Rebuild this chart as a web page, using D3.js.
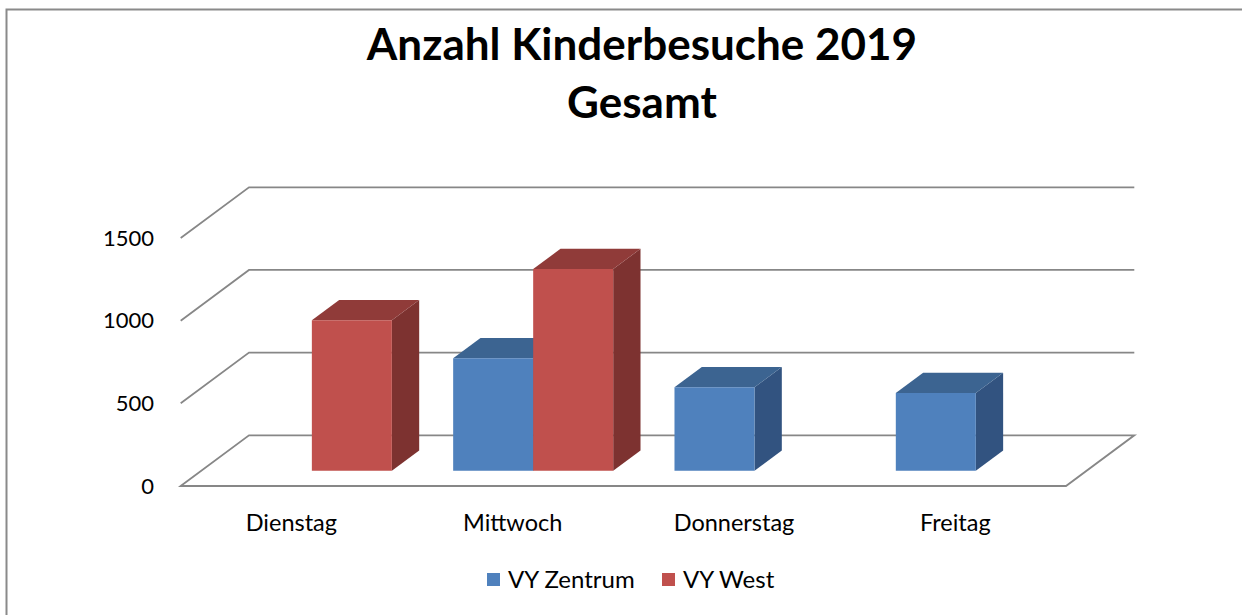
<!DOCTYPE html>
<html>
<head>
<meta charset="utf-8">
<script src="https://cdn.jsdelivr.net/npm/d3@7"></script>
<style>
  body { margin: 0; background: #fff; }
  svg text { font-family: Lato, "Open Sans", sans-serif; fill: #000; }
</style>
</head>
<body>
<svg id="chart" width="1242" height="615"></svg>
<script>
// chart data
var categories = ["Dienstag", "Mittwoch", "Donnerstag", "Freitag"];
var seriesNames = ["VY Zentrum", "VY West"];
var zentrum = [null, 680, 505, 470];
var west = [910, 1220, null, null];
var yTicks = [0, 500, 1000, 1500];
var seriesColors = {
  "VY Zentrum": { front: "#4f81bd", top: "#3c6491", side: "#325380" },
  "VY West": { front: "#c0504d", top: "#903b39", side: "#7d3230" }
};

var svg = d3.select("#chart");

// floor geometry (front-left corner, depth offset)
var floorX0 = 180.7, floorX1 = 1066, baseY = 486;
var DX = 68.3, DY = 50.7;   // depth vector of the floor
var zFront = 0.3, zBack = 0.7; // depth of bars inside the floor

var x = d3.scaleBand().domain(categories).range([floorX0, floorX1]).padding(0);
var xs = d3.scaleBand().domain(seriesNames).range([0, x.bandwidth()]).paddingOuter(0.383).paddingInner(0);
var y = d3.scaleLinear().domain([0, 1500]).range([0, 248]);

// project (floor x, value, depth) -> screen
function proj(px, v, z) {
  return [px + z * DX, baseY - y(v) - z * DY];
}
function poly(pts) {
  return pts.map(function(p) { return p.join(","); }).join(" ");
}

// outer frame
svg.append("path")
  .attr("d", "M6.5,615 L6.5,9.5 L1242,9.5")
  .attr("fill", "none")
  .attr("stroke", "#8a8a8a")
  .attr("stroke-width", 2);

// title
svg.append("text")
  .attr("x", 642).attr("y", 60)
  .attr("text-anchor", "middle")
  .style("font-size", "44px").style("font-weight", "bold")
  .text("Anzahl Kinderbesuche 2019");
svg.append("text")
  .attr("x", 642).attr("y", 118)
  .attr("text-anchor", "middle")
  .style("font-size", "44px").style("font-weight", "bold")
  .text("Gesamt");

// gridlines: diagonal on the side wall, then horizontal on the back wall
var grid = svg.append("g")
  .attr("fill", "none")
  .attr("stroke", "#878787")
  .attr("stroke-width", 1.8);

yTicks.forEach(function(t) {
  var a = proj(floorX0, t, 0), b = proj(floorX0, t, 1), c = proj(floorX1, t, 1);
  if (t === 0) {
    var d = proj(floorX1, 0, 0);
    grid.append("polygon").attr("points", poly([a, b, c, d]));
  } else {
    grid.append("polyline").attr("points", poly([a, b, c]));
  }
});

// y tick labels
svg.append("g").selectAll("text")
  .data(yTicks)
  .enter()
  .append("text")
  .attr("x", 154)
  .attr("y", function(d) { return proj(floorX0, d, 0)[1]; })
  .attr("dy", "0.35em")
  .attr("text-anchor", "end")
  .style("font-size", "22px")
  .text(function(d) { return d; });

// bars, in order left to right
var bars = [];
categories.forEach(function(c, i) {
  [["VY Zentrum", zentrum[i]], ["VY West", west[i]]].forEach(function(s) {
    if (s[1] !== null) bars.push({ cat: c, series: s[0], value: s[1] });
  });
});

var barG = svg.append("g").selectAll("g")
  .data(bars)
  .enter()
  .append("g");

barG.each(function(d) {
  var g = d3.select(this);
  var col = seriesColors[d.series];
  var x0 = x(d.cat) + xs(d.series), x1 = x0 + xs.bandwidth();
  var fbl = proj(x0, 0, zFront), fbr = proj(x1, 0, zFront),
      ftl = proj(x0, d.value, zFront), ftr = proj(x1, d.value, zFront),
      btl = proj(x0, d.value, zBack), btr = proj(x1, d.value, zBack),
      bbr = proj(x1, 0, zBack);
  g.append("polygon").attr("points", poly([fbr, ftr, btr, bbr]))
    .attr("fill", col.side);
  g.append("polygon").attr("points", poly([ftl, btl, btr, ftr]))
    .attr("fill", col.top);
  g.append("polygon").attr("points", poly([fbl, ftl, ftr, fbr]))
    .attr("fill", col.front);
});

// category labels
svg.append("g").selectAll("text")
  .data(categories)
  .enter()
  .append("text")
  .attr("x", function(d) { return x(d) + x.bandwidth() / 2; })
  .attr("y", 531)
  .attr("text-anchor", "middle")
  .style("font-size", "23.5px")
  .text(function(d) { return d; });

// legend
var legendX = [487, 662];
var legend = svg.append("g").selectAll("g")
  .data(seriesNames)
  .enter()
  .append("g")
  .attr("transform", function(d, i) { return "translate(" + legendX[i] + ",573)"; });
legend.append("rect")
  .attr("width", 13).attr("height", 13)
  .attr("fill", function(d) { return seriesColors[d].front; });
legend.append("text")
  .attr("x", 21).attr("y", 15)
  .style("font-size", "24px")
  .text(function(d) { return d; });
</script>
</body>
</html>
